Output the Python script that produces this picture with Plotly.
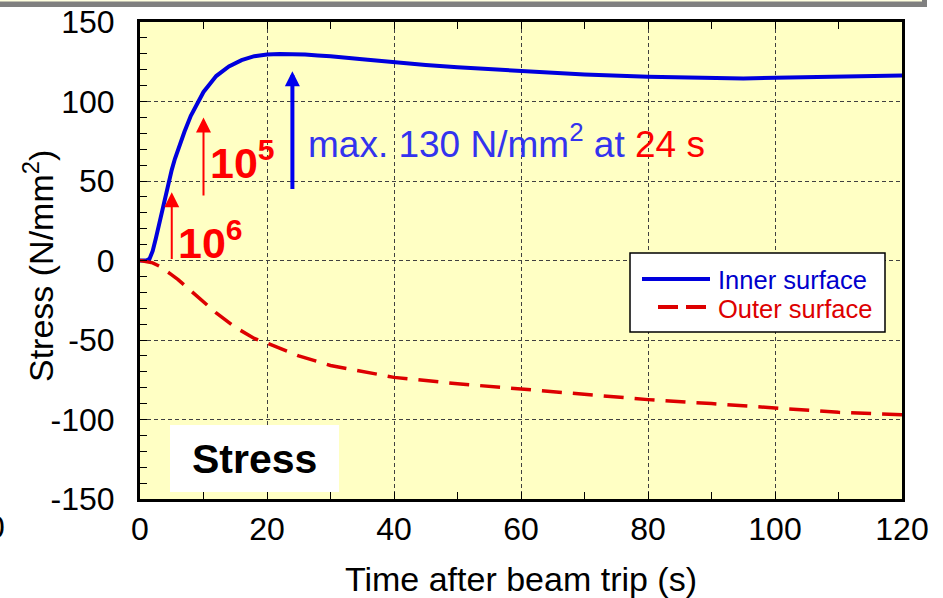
import plotly.graph_objects as go

# Thermal stress after a beam trip
time_inner = [0, 1, 1.5, 2, 2.5, 3, 3.5, 4, 4.5, 5, 5.5, 6, 6.5, 7, 8, 9, 10, 11, 12, 14,
              16, 18, 20, 22, 24, 26, 28, 30, 35, 40, 45, 50, 60, 70, 80, 90, 95, 100, 110, 120]
stress_inner = [0, 0, 1, 6, 14, 23, 32, 41, 50, 57, 64, 70, 76, 81, 91, 99, 106, 111, 116, 122,
                126, 128.5, 129.5, 129.8, 130, 129.6, 129, 128.5, 126.5, 124.5, 123, 121.5, 119, 117,
                115.5, 115, 114.5, 115, 115.5, 116.3]

time_outer = [0, 1, 2, 3, 4, 5, 6, 8, 10, 12, 15, 18, 20, 25, 30, 35, 40, 50, 60, 70, 80, 90,
              100, 110, 120]
stress_outer = [0, -0.5, -1.5, -3.5, -6, -9, -12, -19, -26, -33, -42, -49, -52, -60, -66, -70,
                -73.5, -77.5, -81, -84, -87.5, -90, -92.5, -95.5, -97]

x_ticks = [0, 20, 40, 60, 80, 100, 120]
y_ticks = [-150, -100, -50, 0, 50, 100, 150]

# cooling-rate markers (time, arrow base, arrow tip, label)
rate_times = [5, 10]
rate_base = [0, 40]
rate_tip = [43, 90]
rate_labels = ["10<sup>6</sup>", "10<sup>5</sup>"]

# peak marker
peak_arrow_base = 44
peak_arrow_tip = 119

FONT = "Liberation Sans, Arial, sans-serif"
BLUE = "#0000DD"
RED = "#DD0000"

# plot-area geometry in pixels, used to place layout decorations
L, R, T, B = 140, 902, 22, 499


def px_x(p):
    return (p - L) / (R - L)


def px_y(p):
    return (B - p) / (B - T)


fig = go.Figure()
fig.add_trace(go.Scatter(x=time_inner, y=stress_inner, mode="lines", name="Inner surface",
                         line=dict(color=BLUE, width=4)))
fig.add_trace(go.Scatter(x=time_outer, y=stress_outer, mode="lines", name="Outer surface",
                         line=dict(color=RED, width=3.5, dash="20px,11px")))

peak_idx = max(range(len(stress_inner)), key=lambda i: stress_inner[i])
peak_t, peak_s = time_inner[peak_idx], stress_inner[peak_idx]

annotations = []
shapes = []

# cooling-rate arrows and labels
label_offsets = [(0.6, -30), (0.7, -27)]
for t, y0, y1, lab, (dx, dy) in zip(rate_times, rate_base, rate_tip, rate_labels, label_offsets):
    annotations.append(dict(x=t, y=y1, ax=t, ay=y0, xref="x", yref="y", axref="x", ayref="y",
                            text="", showarrow=True, arrowhead=2, arrowwidth=2, arrowsize=1.5,
                            arrowcolor="#FF0000"))
    annotations.append(dict(x=t + dx, y=y1 + dy, xref="x", yref="y", text="<b>%s</b>" % lab,
                            showarrow=False, xanchor="left", yanchor="middle",
                            font=dict(family=FONT, size=43, color="#FF0000")))

# peak arrow and caption
annotations.append(dict(x=peak_t, y=peak_arrow_tip, ax=peak_t, ay=peak_arrow_base, xref="x", yref="y",
                        axref="x", ayref="y", text="", showarrow=True, arrowhead=2, arrowwidth=4,
                        arrowsize=0.75, arrowcolor="#0000EE"))
annotations.append(dict(x=peak_t + 2.2, y=75, xref="x", yref="y", showarrow=False,
                        xanchor="left", yanchor="middle",
                        text="max. %d N/mm<sup>2</sup> at <span style='color:#FF0000'>%d s</span>"
                             % (peak_s, peak_t),
                        font=dict(family=FONT, size=37, color="#3333EE")))

# legend box
shapes.append(dict(type="rect", xref="paper", yref="paper", x0=px_x(630), x1=px_x(885),
                   y0=px_y(332), y1=px_y(253), fillcolor="white", line=dict(color="black", width=1.5),
                   layer="above"))
shapes.append(dict(type="line", xref="paper", yref="paper", x0=px_x(642), x1=px_x(710),
                   y0=px_y(279), y1=px_y(279), line=dict(color=BLUE, width=4), layer="above"))
shapes.append(dict(type="line", xref="paper", yref="paper", x0=px_x(658), x1=px_x(710),
                   y0=px_y(307), y1=px_y(307), line=dict(color=RED, width=4, dash="20px,8px"),
                   layer="above"))
annotations.append(dict(x=px_x(716), y=px_y(280), xref="paper", yref="paper", text="Inner surface",
                        showarrow=False, xanchor="left", yanchor="middle",
                        font=dict(family=FONT, size=25.5, color="#0000CC")))
annotations.append(dict(x=px_x(716), y=px_y(309), xref="paper", yref="paper", text="Outer surface",
                        showarrow=False, xanchor="left", yanchor="middle",
                        font=dict(family=FONT, size=25.5, color="#DD0000")))

# panel label
shapes.append(dict(type="rect", xref="paper", yref="paper", x0=px_x(170), x1=px_x(339),
                   y0=px_y(492), y1=px_y(425), fillcolor="white", line=dict(width=0), layer="above"))
annotations.append(dict(x=px_x(254.5), y=px_y(459), xref="paper", yref="paper", text="<b>Stress</b>",
                        showarrow=False, xanchor="center", yanchor="middle",
                        font=dict(family=FONT, size=41, color="black")))

# y-axis title
annotations.append(dict(x=px_x(38), y=px_y(266), xref="paper", yref="paper",
                        text="Stress (N/mm<sup>2</sup>)", textangle=-90, showarrow=False,
                        xanchor="center", yanchor="middle",
                        font=dict(family=FONT, size=34, color="black")))

# frame strip along the top edge
shapes.append(dict(type="rect", xref="paper", yref="paper", x0=px_x(-2), x1=px_x(927),
                   y0=px_y(7), y1=px_y(-2), fillcolor="#808080", line=dict(width=0), layer="above"))
shapes.append(dict(type="rect", xref="paper", yref="paper", x0=px_x(-2), x1=px_x(922),
                   y0=px_y(1.5), y1=px_y(-2), fillcolor="#FFFFE0", line=dict(width=0), layer="above"))

# neighbouring panel's tick label at the left edge
annotations.append(dict(x=px_x(7), y=px_y(527), xref="paper", yref="paper", text="0",
                        showarrow=False, xanchor="right", yanchor="middle",
                        font=dict(family=FONT, size=32, color="black")))

fig.update_layout(
    width=943, height=598,
    margin=dict(l=L, r=943 - R, t=T, b=598 - B, pad=0),
    paper_bgcolor="white",
    plot_bgcolor="#FFFFC4",
    showlegend=False,
    font=dict(family=FONT, size=32, color="black"),
    annotations=annotations,
    shapes=shapes,
)

fig.update_xaxes(
    range=[0, 120], tickvals=x_ticks, ticktext=[str(v) for v in x_ticks],
    ticks="inside", ticklen=7, tickwidth=1, tickcolor="black",
    minor=dict(dtick=10, ticks="inside", ticklen=7, tickwidth=1, tickcolor="black", showgrid=False),
    showline=True, linewidth=3, linecolor="black", mirror="ticks",
    showgrid=True, gridcolor="#404040", gridwidth=1, griddash="4px,3px",
    zeroline=False, tickfont=dict(size=32), ticklabelstandoff=0, automargin=False,
    title=dict(text="Time after beam trip (s)", font=dict(size=34), standoff=24),
)
fig.update_yaxes(
    range=[-150, 150], tickvals=y_ticks, ticktext=[str(v) for v in y_ticks],
    ticks="inside", ticklen=7, tickwidth=1, tickcolor="black",
    minor=dict(dtick=10, ticks="inside", ticklen=7, tickwidth=1, tickcolor="black", showgrid=False),
    showline=True, linewidth=3, linecolor="black", mirror=True,
    showgrid=True, gridcolor="#404040", gridwidth=1, griddash="4px,3px",
    zeroline=False, tickfont=dict(size=32), ticklabelstandoff=16, automargin=False,
)

fig.write_html("out.html")
